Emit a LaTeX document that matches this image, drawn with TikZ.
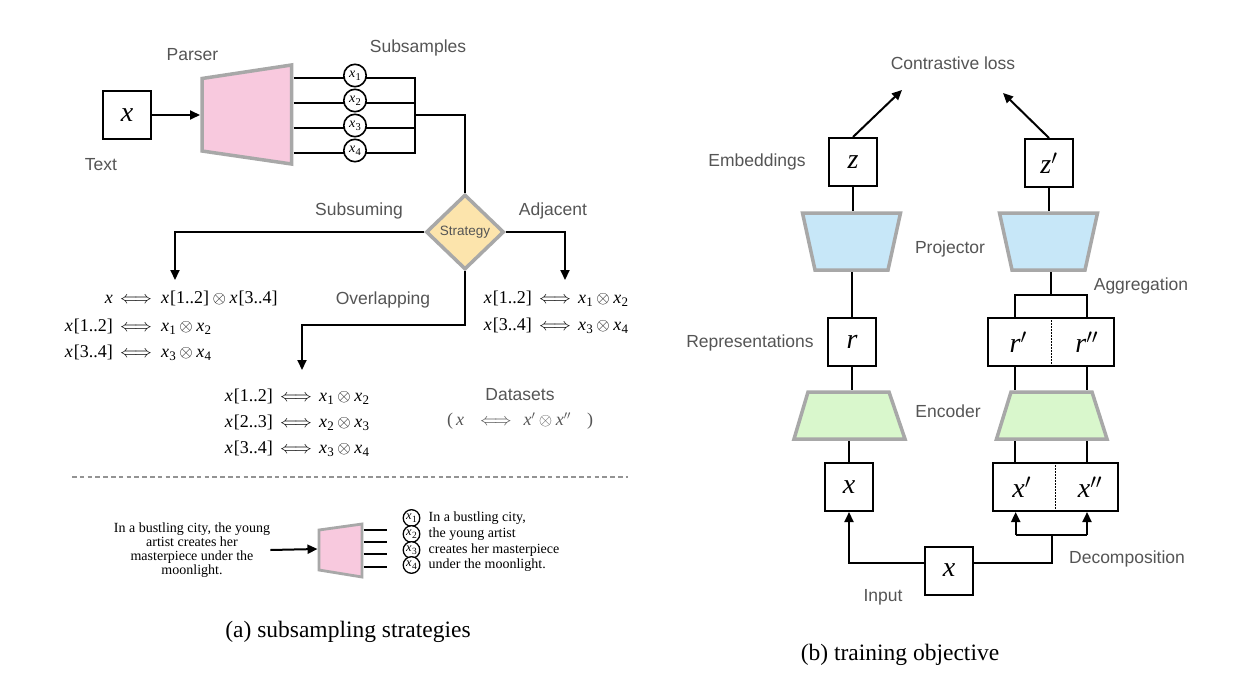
\documentclass[tikz,border=0pt]{standalone}
\usepackage{amsmath}
\usepackage{fontspec}
\setmainfont{Liberation Serif}
\newfontfamily\labfont{Liberation Sans}
\usetikzlibrary{arrows.meta,shapes.geometric}
\definecolor{labgray}{RGB}{85,85,85}
\definecolor{bordergray}{RGB}{168,168,168}
\definecolor{parpink}{RGB}{248,201,222}
\definecolor{stratfill}{RGB}{252,228,172}
\definecolor{projblue}{RGB}{199,231,248}
\definecolor{encgreen}{RGB}{217,247,204}
\newcommand\vx{\textit{x}}
\newcommand\vxsub[2][13]{\textit{x}\kern0.3pt\raisebox{-0.22em}{\fontsize{#1}{#1}\selectfont #2}}
\newcommand\myiff{$\Longleftrightarrow$}
\newcommand\myot{\hspace{3.5pt}$\otimes$\hspace{3.5pt}}
\newcommand\eqrow[7]{%
  \node[eqtext, anchor=base east] (#1l) at (#3,#2) {#6};
  \node[eqtext, anchor=base] (#1m) at (#4,#2) {\myiff};
  \node[eqtext, anchor=base west] (#1r) at (#5,#2) {#7};}
\tikzset{
  conn/.style={draw=black, line width=2pt},
  arr/.style={conn, -{Triangle[length=10pt,width=9pt]}},
  lbl/.style={font={\labfont\fontsize{17.5}{21}\selectfont}, text=labgray, inner sep=0pt},
  vbox/.style={draw=black, line width=2pt, fill=white, minimum width=48pt, minimum height=48pt, inner sep=0pt, font={\fontsize{28}{30}\selectfont}},
  boxlabel/.style={inner sep=0pt, font={\fontsize{28}{30}\selectfont}},
  eqtext/.style={inner sep=0pt, font={\fontsize{18}{20}\selectfont}},
  trapz/.style={draw=bordergray, line width=3.5pt, line join=miter},
  circ/.style={circle, draw=black, line width=1.6pt, fill=white, minimum size=22.4pt, inner sep=0pt, font={\fontsize{14}{14}\selectfont}},
  smallcirc/.style={circle, draw=black, line width=1.3pt, fill=white, minimum size=16.6pt, inner sep=0pt, font={\fontsize{12.5}{12.5}\selectfont}},
  extext/.style={inner sep=0pt, font={\fontsize{14}{14.2}\selectfont}},
  captext/.style={inner sep=0pt, font={\fontsize{23.5}{26}\selectfont}},
  divline/.style={draw=black, line width=1.5pt, dash pattern=on 1.5pt off 1.5pt},
}
\begin{document}
\begin{tikzpicture}[x=1pt, y=-1pt]
\useasboundingbox[fill=white] (0,0) rectangle (1246,690);

% ================= (a) subsampling strategies =================
\node[vbox] (xin) at (127,115) {\vx};
\node[lbl] (ltext) at (101,165) {Text};
\node[lbl] (lparser) at (192.5,55) {Parser};
\node[lbl] (lsubs) at (418,48) {Subsamples};

\path[trapz, fill=parpink] (202,78.5) -- (291.5,65) -- (291.5,164) -- (202,151) -- cycle;
\coordinate (parIn) at (200,115);
\draw[arr] (xin.east) -- (parIn);

\foreach \i/\y in {1/77.7,2/102.7,3/127.7,4/152.7}{
  \coordinate (po\i) at (293.5,\y);
  \coordinate (pb\i) at (415,\y);
  \draw[conn] (po\i) -- (pb\i);
  \node[circ] (c\i) at (355,\y-2.2) {\vxsub[10.5]{\i}};
}
\draw[conn, line cap=rect] (pb1) -- (pb4);
\coordinate (barM) at (415,115);

\node[diamond, draw=bordergray, line width=3.5pt, fill=stratfill, minimum width=78pt, minimum height=75pt, inner sep=0pt,
      font={\labfont\fontsize{13.5}{15}\selectfont}, text=labgray] (strat) at (465,232) {Strategy};
\draw[conn] (barM) -| (strat.north);

\node[lbl] (lsubsum) at (359,211) {Subsuming};
\node[lbl] (ladj) at (553,211) {Adjacent};
\node[lbl] (loverl) at (383,300) {Overlapping};

\coordinate (subT) at (175,280);
\coordinate (adjT) at (565,280);
\coordinate (ovK) at (465,325);
\coordinate (ovT) at (302,370);
\draw[arr] (strat.west) -| (subT);
\draw[arr] (strat.east) -| (adjT);
\draw[arr] (strat.south) -- (ovK) -| (ovT);

% Subsuming
\eqrow{sa}{303}{113}{136}{161}{\vx}{\vx\kern1pt[1..2]\myot\vx\kern1pt[3..4]}
\eqrow{sb}{331}{113}{136}{161}{\vx\kern1pt[1..2]}{\vxsub{1}\myot\vxsub{2}}
\eqrow{sc}{357}{113}{136}{161}{\vx\kern1pt[3..4]}{\vxsub{3}\myot\vxsub{4}}
% Adjacent
\eqrow{aa}{303}{532}{555}{578}{\vx\kern1pt[1..2]}{\vxsub{1}\myot\vxsub{2}}
\eqrow{ab}{330}{532}{555}{578}{\vx\kern1pt[3..4]}{\vxsub{3}\myot\vxsub{4}}
% Overlapping
\eqrow{oa}{401}{273}{296}{319}{\vx\kern1pt[1..2]}{\vxsub{1}\myot\vxsub{2}}
\eqrow{ob}{427}{273}{296}{319}{\vx\kern1pt[2..3]}{\vxsub{2}\myot\vxsub{3}}
\eqrow{oc}{453}{273}{296}{319}{\vx\kern1pt[3..4]}{\vxsub{3}\myot\vxsub{4}}

\node[lbl] (ldata) at (520,395) {Datasets};
\node[eqtext, text=labgray] (dform) at (520,421) {(\,\vx\hspace{16pt}\myiff\hspace{12pt}\vx$'$\myot\vx$''$\hspace{16pt})};

\coordinate (dashA) at (72,477);
\coordinate (dashB) at (628,477);
\draw[draw=gray!85, line width=2pt, dash pattern=on 4.6pt off 3.2pt] (dashA) -- (dashB);

% example
\node[extext, align=center] (extxt) at (192,550) {In a bustling city, the young\\artist creates her\\masterpiece under the\\moonlight.};
\path[trapz, line width=2.8pt, fill=parpink] (319,530) -- (362,524) -- (362,577) -- (319,570) -- cycle;
\coordinate (exIn) at (317.5,549);
\draw[arr] (extxt.east) -- (exIn);
\foreach \i/\y/\cy/\t in {1/530/518/{In a bustling city,},2/542.3/534/{the young artist},3/554.3/550/{creates her masterpiece},4/566.7/565/{under the moonlight.}}{
  \coordinate (eo\i) at (363.5,\y);
  \coordinate (ee\i) at (387,\y);
  \draw[draw=black, line width=2pt] (eo\i) -- (ee\i);
  \node[smallcirc] (ec\i) at (411.5,\cy) {\vxsub[9.5]{\i}};
  \node[extext, anchor=west] (et\i) at (428.5,\cy) {\t};
}

\node[captext] (capa) at (348,632) {(a) subsampling strategies};

% ================= (b) training objective =================
\node[lbl] (lcl) at (953,63) {Contrastive loss};
\node[vbox] (z) at (853,162) {\textit{z}};
\node[vbox] (zp) at (1049,163) {\textit{z}$'$};
\coordinate (cl1) at (902,90);
\coordinate (cl2) at (1003,93);
\draw[arr] (z.north) -- (cl1);
\draw[arr] (zp.north) -- (cl2);
\node[lbl] (lemb) at (757,162) {Embeddings};

% projectors
\path[trapz, fill=projblue] (802.5,213) -- (900.5,213) -- (888,270) -- (815,270) -- cycle;
\path[trapz, fill=projblue] (999.5,213) -- (1097.5,213) -- (1085,270) -- (1012,270) -- cycle;
\node[lbl] (lproj) at (950,249) {Projector};
\coordinate (pjLt) at (853,211);
\coordinate (pjLb) at (852,272);
\coordinate (pjRt) at (1049,211);
\coordinate (pjRb) at (1051,272);
\draw[conn] (z.south) -- (pjLt);
\draw[conn] (zp.south) -- (pjRt);

% representations
\node[vbox, minimum height=47.5pt] (r) at (852,342) {\textit{r}};
\node[vbox, minimum height=47.5pt, minimum width=126pt] (rr) at (1051.3,342) {};
\draw[divline] (rr.north) -- (rr.south);
\node[boxlabel] (rp) at (1018.3,342) {\textit{r}$'$};
\node[boxlabel] (rpp) at (1086.7,342) {\textit{r}$''$};
\node[lbl] (lrep) at (750,343) {Representations};
\draw[conn] (pjLb) -- (r.north);

% aggregation
\coordinate (agM) at (1051,295);
\coordinate (agA) at (1015,295);
\coordinate (agB) at (1087,295);
\draw[conn] (pjRb) -- (agM);
\draw[conn] (rr.north -| agA) -- (agA) -- (agB) -- (rr.north -| agB);
\node[lbl] (lagg) at (1141,286) {Aggregation};

% encoders
\path[trapz, fill=encgreen] (808,392) -- (889,392) -- (905,439) -- (794,439) -- cycle;
\path[trapz, fill=encgreen] (1011,392) -- (1092,392) -- (1107,439) -- (996.5,439) -- cycle;
\node[lbl] (lenc) at (948,411) {Encoder};
\coordinate (enLt) at (852,390);
\coordinate (enLb) at (849,441);
\coordinate (enRt) at (1051,390);
\coordinate (enRb) at (1051,441);
\draw[conn] (r.south) -- (enLt);
\draw[conn] (rr.south -| agA) -- (enRt -| agA);
\draw[conn] (rr.south -| agB) -- (enRt -| agB);

% inputs
\node[vbox] (xb) at (849,487) {\vx};
\node[vbox, minimum width=125.6pt] (xx) at (1055.5,487) {};
\draw[divline] (xx.north) -- (xx.south);
\node[boxlabel] (xp) at (1021.7,487) {\vx$'$};
\node[boxlabel] (xpp) at (1090,487) {\vx$''$};
\draw[conn] (enLb) -- (xb.north);
\draw[conn] (enRb -| agA) -- (xx.north -| agA);
\draw[conn] (enRb -| agB) -- (xx.north -| agB);

\node[vbox] (inx) at (949,570.5) {\vx};
\node[lbl] (linput) at (883,597) {Input};
\coordinate (inL) at ([yshift=8pt]inx.west);
\coordinate (inR) at ([yshift=8pt]inx.east);
\draw[arr] (inL) -| (xb.south);
\coordinate (dcM) at (1052,535);
\coordinate (dcA) at (1015.7,535);
\coordinate (dcB) at (1087,535);
\draw[conn] (inR) -| (dcM);
\draw[conn] (dcA) -- (dcB);
\draw[arr] (dcA) -- (dcA |- xx.south);
\draw[arr] (dcB) -- (dcB |- xx.south);
\node[lbl] (ldec) at (1127,559) {Decomposition};

\node[captext] (capb) at (900,655) {(b) training objective};
\end{tikzpicture}
\end{document}
